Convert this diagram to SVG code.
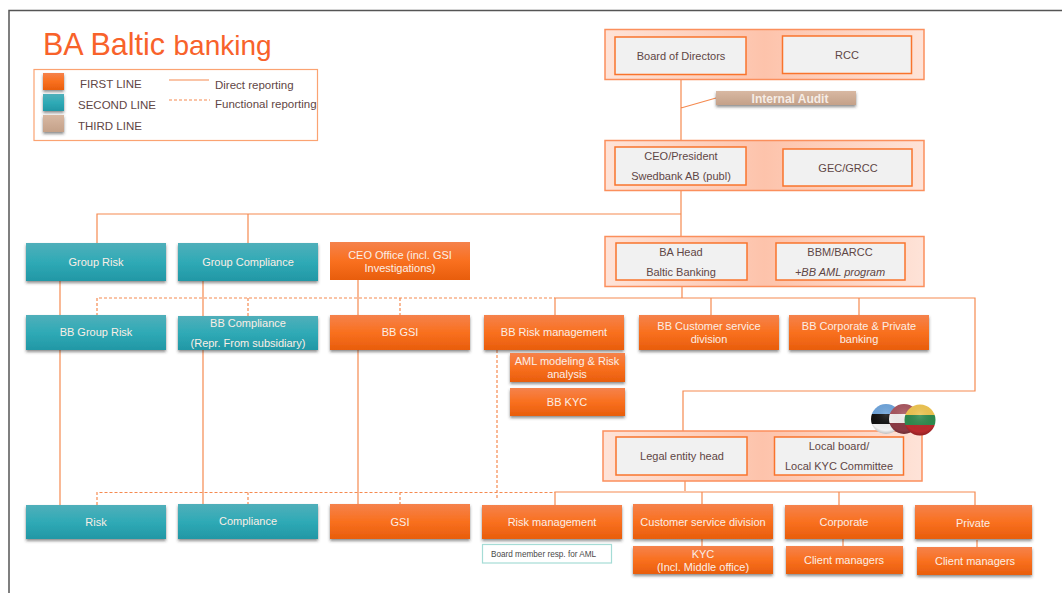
<svg xmlns="http://www.w3.org/2000/svg" width="1062" height="593" viewBox="0 0 1062 593">
<defs>
<linearGradient id="og" x1="0" y1="0" x2="0" y2="1"><stop offset="0" stop-color="#f5824c"/><stop offset=".5" stop-color="#f9701f"/><stop offset="1" stop-color="#e85d0c"/></linearGradient>
<linearGradient id="tg" x1="0" y1="0" x2="0" y2="1"><stop offset="0" stop-color="#50afba"/><stop offset=".5" stop-color="#2faab6"/><stop offset="1" stop-color="#2297a5"/></linearGradient>
<linearGradient id="bg" x1="0" y1="0" x2="0" y2="1"><stop offset="0" stop-color="#d8b8a2"/><stop offset="1" stop-color="#c4a189"/></linearGradient>
<linearGradient id="pg" x1="0" y1="0" x2="1" y2="0"><stop offset="0" stop-color="#fee3d8"/><stop offset=".5" stop-color="#fdc3ab"/><stop offset="1" stop-color="#fee3d8"/></linearGradient>
<radialGradient id="gl" cx=".5" cy=".35" r=".7"><stop offset="0" stop-color="#fff" stop-opacity=".15"/><stop offset=".75" stop-color="#000" stop-opacity="0"/><stop offset="1" stop-color="#000" stop-opacity=".3"/></radialGradient>
<filter id="sh" x="-10%" y="-20%" width="120%" height="150%"><feDropShadow dx="0" dy="2" stdDeviation="1.500" flood-color="#333" flood-opacity=".55"/></filter>
<clipPath id="c1"><circle cx="886" cy="419" r="15"/></clipPath>
<clipPath id="c2"><circle cx="904" cy="419" r="15"/></clipPath>
<clipPath id="c3"><circle cx="920" cy="420" r="15.500"/></clipPath>
</defs>
<style>
text{font-family:"Liberation Sans",Arial,sans-serif;font-size:11px;text-anchor:middle}
.w{fill:#fbeee6}.d{fill:#5f4645}
.o{fill:url(#og);filter:url(#sh)}.t{fill:url(#tg);filter:url(#sh)}
.p{fill:url(#pg);stroke:#fb8f5c;stroke-width:1.500}
.i{fill:#f1f1f1;stroke:#f9742c;stroke-width:1.500}
.l{fill:none;stroke:#f58a50;stroke-width:1.200}
.f{fill:none;stroke:#f58a50;stroke-width:1.200;stroke-dasharray:3 2}
.k{text-anchor:start}
.g{font-size:11.500px}
</style>
<rect width="1062" height="593" fill="#fff"/>
<path d="M9 593V10.500H1062" fill="none" stroke="#555" stroke-width="1.500"/>
<g id="title"><text x="43" y="55" style="font-size:30.500px;text-anchor:start;fill:#f8622a">BA Baltic <tspan style="font-size:28px">banking</tspan></text></g>
<g id="legend">
<rect x="34" y="69.500" width="283.500" height="71" fill="#fff" stroke="#fba372" stroke-width="1.200"/>
<rect x="43" y="73" width="21" height="17" class="o"/>
<rect x="43" y="94" width="21" height="17" class="t"/>
<rect x="43" y="115" width="21" height="17" fill="url(#bg)" filter="url(#sh)"/>
<text x="80" y="88" class="d k g">FIRST LINE</text>
<text x="78" y="109" class="d k g">SECOND LINE</text>
<text x="78" y="130" class="d k g">THIRD LINE</text>
<path d="M169 80H209" class="l"/><path d="M169 100H210" class="f"/>
<text x="215" y="89" class="d k g">Direct reporting</text>
<text x="215" y="108" class="d k g">Functional reporting</text>
</g>
<g id="connectors">
<path d="M681 75V140M681 190V243M681 108L716 98M97 243V214H681M248 243V214M60 280V505M203 280V505M358 280V505M682 285V298M555 316V298H975V391H683V432M711 316V298M859 316V298M685 480V491M555 505V492H975V505M702 505V492M839 505V492" class="l"/>
<path d="M702 538V547M843 538V546M977 540V547" class="l"/>
<path d="M97 316V298H555M248 316V298M400 316V298" class="f"/>
<path d="M97 505V492.500H555M248 505V492.500M400 505V492.500M497 350V500" class="f"/>
</g>
<g id="board"><rect x="605" y="29.500" width="319" height="50" class="p"/>
<rect x="615" y="37" width="131" height="37.500" class="i"/><text x="681" y="60" class="d">Board of Directors</text>
<rect x="782.500" y="36" width="129" height="37.500" class="i"/><text x="847" y="59" class="d">RCC</text></g>
<g id="audit"><rect x="716" y="91" width="140" height="14" fill="url(#bg)" filter="url(#sh)"/><text x="790" y="102.500" style="font-weight:bold;font-size:12px" fill="#f6ece5">Internal Audit</text></g>
<g id="ceo"><rect x="605" y="140.500" width="319" height="50" class="p"/>
<rect x="615" y="147" width="131" height="38" class="i"/><text x="681" y="160" class="d">CEO/President</text><text x="681" y="180" class="d">Swedbank AB (publ)</text>
<rect x="783" y="149" width="129" height="37" class="i"/><text x="848" y="172" class="d">GEC/GRCC</text></g>
<g id="bahead"><rect x="605" y="236.500" width="319" height="50" class="p"/>
<rect x="616" y="243" width="131" height="37" class="i"/><text x="681" y="256" class="d">BA Head</text><text x="681" y="276" class="d">Baltic Banking</text>
<rect x="776" y="243" width="129" height="37" class="i"/><text x="840" y="256" class="d">BBM/BARCC</text><text x="840" y="276" class="d"><tspan font-style="italic">+BB AML program</tspan></text></g>
<g id="legal"><rect x="603" y="431" width="319" height="50" class="p"/>
<rect x="616" y="437" width="131" height="38" class="i"/><text x="682" y="460" class="d">Legal entity head</text>
<rect x="774.500" y="437" width="129" height="38" class="i"/><text x="839" y="450" class="d">Local board/</text><text x="839" y="470" class="d">Local KYC Committee</text></g>
<g id="flags">
<g clip-path="url(#c1)"><rect x="870" y="403" width="32" height="11" fill="#6fa5dc"/><rect x="870" y="414" width="32" height="10" fill="#111"/><rect x="870" y="424" width="32" height="11" fill="#f2f2f2"/></g>
<circle cx="886" cy="419" r="15" fill="url(#gl)"/>
<g clip-path="url(#c2)"><rect x="888" y="403" width="32" height="13" fill="#a9555e"/><rect x="888" y="414" width="32" height="9" fill="#f4f0ef"/><rect x="888" y="423" width="32" height="13" fill="#8c3a44"/></g>
<circle cx="904" cy="419" r="15" fill="url(#gl)"/>
<g clip-path="url(#c3)"><rect x="904" y="404" width="32" height="11" fill="#efc550"/><rect x="904" y="415" width="32" height="10" fill="#2f8a4e"/><rect x="904" y="425" width="32" height="11" fill="#b92a2e"/></g>
<circle cx="920" cy="420" r="15.500" fill="url(#gl)"/>
</g>
<g id="group-risk"><rect x="26" y="243" width="140" height="38" class="t"/><text x="96" y="266" class="w">Group Risk</text></g>
<g id="group-compliance"><rect x="178" y="243" width="140" height="38" class="t"/><text x="248" y="266" class="w">Group Compliance</text></g>
<g id="ceo-office"><rect x="330" y="242" width="140" height="38" class="o" style="filter:none"/><text x="400" y="259" class="w">CEO Office (incl. GSI</text><text x="400" y="272" class="w">Investigations)</text></g>
<g id="bb-group-risk"><rect x="26" y="315" width="140" height="35" class="t"/><text x="96" y="336" class="w">BB Group Risk</text></g>
<g id="bb-compliance"><rect x="178" y="316" width="140" height="34" class="t"/><text x="248" y="327" class="w">BB Compliance</text><text x="248" y="347" class="w">(Repr. From subsidiary)</text></g>
<g id="bb-gsi"><rect x="330" y="315" width="140" height="35" class="o"/><text x="400" y="336" class="w">BB GSI</text></g>
<g id="bb-risk"><rect x="484" y="315" width="140" height="35" class="o"/><text x="554" y="336" class="w">BB Risk management</text></g>
<g id="bb-customer"><rect x="639" y="315" width="140" height="35" class="o"/><text x="709" y="330" class="w">BB Customer service</text><text x="709" y="343" class="w">division</text></g>
<g id="bb-corporate"><rect x="789" y="315" width="140" height="35" class="o"/><text x="859" y="330" class="w">BB Corporate &amp; Private</text><text x="859" y="343" class="w">banking</text></g>
<g id="aml"><rect x="510" y="353" width="115" height="29" class="o"/><text x="567" y="365" class="w">AML modeling &amp; Risk</text><text x="567" y="378" class="w">analysis</text></g>
<g id="bb-kyc"><rect x="510" y="388" width="115" height="28" class="o"/><text x="567" y="406" class="w">BB KYC</text></g>
<g id="risk"><rect x="26" y="505" width="140" height="34" class="t"/><text x="96" y="526" class="w">Risk</text></g>
<g id="compliance"><rect x="178" y="504" width="140" height="35" class="t"/><text x="248" y="525" class="w">Compliance</text></g>
<g id="gsi"><rect x="330" y="504" width="140" height="35" class="o"/><text x="400" y="526" class="w">GSI</text></g>
<g id="risk-mgmt"><rect x="482" y="505" width="140" height="34" class="o"/><text x="552" y="526" class="w">Risk management</text></g>
<g id="board-member"><rect x="482.500" y="544.500" width="129" height="18.500" fill="#fff" stroke="#a5dcd6" stroke-width="1.200"/><text x="491" y="557" class="k" style="font-size:8.200px" fill="#4a4a4a">Board member resp. for AML</text></g>
<g id="customer"><rect x="633" y="504" width="140" height="35" class="o"/><text x="703" y="526" class="w">Customer service division</text></g>
<g id="kyc"><rect x="633" y="546" width="140" height="28" class="o"/><text x="703" y="558" class="w">KYC</text><text x="703" y="571" class="w">(Incl. Middle office)</text></g>
<g id="corporate"><rect x="785" y="505" width="118" height="34" class="o"/><text x="844" y="526" class="w">Corporate</text></g>
<g id="client1"><rect x="786" y="546" width="117" height="28" class="o"/><text x="844" y="564" class="w">Client managers</text></g>
<g id="private"><rect x="915" y="505" width="117" height="34" class="o"/><text x="973" y="527" class="w">Private</text></g>
<g id="client2"><rect x="917" y="547" width="115" height="28" class="o"/><text x="975" y="565" class="w">Client managers</text></g>
</svg>
